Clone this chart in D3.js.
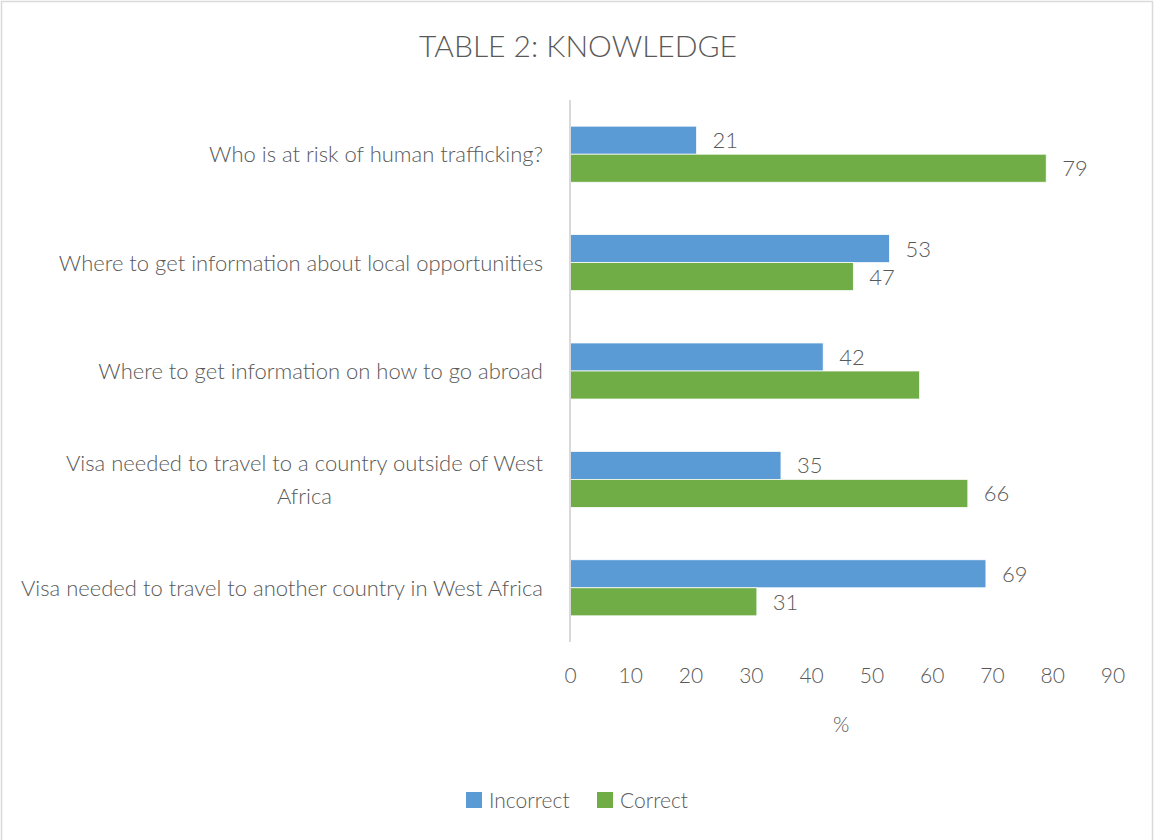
<!DOCTYPE html>
<html>
<head>
<meta charset="utf-8">
<script src="https://cdn.jsdelivr.net/npm/d3@7/dist/d3.min.js"></script>
<style>
  html, body { margin: 0; padding: 0; background: #fff; }
  svg text { font-family: "Lato", "Open Sans", sans-serif; font-weight: 300; fill: #595959; }
</style>
</head>
<body>
<svg id="chart" width="1154" height="840"></svg>
<script>
// Survey questions (top to bottom) and response shares in percent
const questions = [
  ["Who is at risk of human trafficking?"],
  ["Where to get information about local opportunities"],
  ["Where to get information on how to go abroad"],
  ["Visa needed to travel to a country outside of West", "Africa"],
  ["Visa needed to travel to another country in West Africa"]
];
const seriesNames = ["Incorrect", "Correct"];
const incorrect = [21, 53, 42, 35, 69];
const correct = [79, 47, 58, 66, 31];
// Which bars carry a value label
const incorrectLabelled = [true, true, true, true, true];
const correctLabelled = [true, true, false, true, true];
const xTicks = [0, 10, 20, 30, 40, 50, 60, 70, 80, 90];
const titleText = "TABLE 2: KNOWLEDGE";
const axisTitle = "%";

const colors = { Incorrect: "#5B9BD5", Correct: "#70AD47" };

const svg = d3.select("#chart");

// outer frame
svg.append("rect")
  .attr("x", 1.5).attr("y", 1.5).attr("width", 1151).attr("height", 840)
  .attr("fill", "#fff").attr("stroke", "#d9d9d9").attr("stroke-width", 1.5);

const x = d3.scaleLinear().domain([0, 90]).range([570, 1112.5]);
const y = d3.scaleBand().domain(d3.range(questions.length))
  .range([100, 642]).paddingInner(0.483).paddingOuter(0.2415);
const ySub = d3.scaleBand().domain(seriesNames).range([0, y.bandwidth()]);

const rows = questions.map((q, i) => ({
  i, q,
  values: [
    { key: "Incorrect", v: incorrect[i], show: incorrectLabelled[i] },
    { key: "Correct", v: correct[i], show: correctLabelled[i] }
  ]
}));

// title
svg.append("text")
  .attr("x", 578).attr("y", 57)
  .attr("text-anchor", "middle")
  .style("font-size", "30px")
  .text(titleText);

// bars
const groups = svg.append("g").selectAll("g").data(rows).join("g")
  .attr("transform", d => `translate(0,${y(d.i)})`);

groups.selectAll("rect").data(d => d.values).join("rect")
  .attr("x", x(0))
  .attr("y", d => ySub(d.key))
  .attr("width", d => x(d.v) - x(0))
  .attr("height", ySub.bandwidth())
  .attr("fill", d => colors[d.key])
  .attr("stroke", "#fff")
  .attr("stroke-width", 0.75);

groups.selectAll("text.val").data(d => d.values.filter(v => v.show)).join("text")
  .attr("class", "val")
  .attr("x", d => x(d.v) + 16)
  .attr("y", d => ySub(d.key) + ySub.bandwidth() / 2)
  .attr("dy", "0.36em")
  .style("font-size", "22px")
  .text(d => d.v);

// vertical category axis line
svg.append("line")
  .attr("x1", x(0)).attr("x2", x(0))
  .attr("y1", 100).attr("y2", 642)
  .attr("stroke", "#d9d9d9").attr("stroke-width", 2);

// category labels (multi-line labels are centred as a block, block right-aligned)
const labelRight = 543;
const lineH = 33;
questions.forEach((lines, i) => {
  const cy = y(i) + y.bandwidth() / 2;
  const t = svg.append("text")
    .style("font-size", "22px")
    .attr("text-anchor", lines.length > 1 ? "middle" : "end");
  const spans = lines.map((ln, k) => t.append("tspan")
    .attr("y", cy + (k - (lines.length - 1) / 2) * lineH)
    .attr("dy", "0.36em")
    .text(ln));
  if (lines.length > 1) {
    const w = d3.max(spans, s => s.node().getComputedTextLength());
    spans.forEach(s => s.attr("x", labelRight - w / 2));
  } else {
    spans.forEach(s => s.attr("x", labelRight));
  }
});

// x axis tick labels (no line, no ticks)
const xAxis = d3.axisBottom(x).tickValues(xTicks).tickSize(0).tickPadding(0);
const gx = svg.append("g").attr("transform", "translate(0,668)").call(xAxis);
gx.select(".domain").remove();
gx.selectAll("text")
  .attr("dy", "0.71em")
  .style("font-size", "21px")
  .style("font-family", null)
  .attr("fill", null);

// axis title
svg.append("text")
  .attr("x", x(45)).attr("y", 732)
  .attr("text-anchor", "middle")
  .style("font-size", "21px")
  .text(axisTitle);

// legend
const legendItems = [
  { key: "Incorrect", x: 466 },
  { key: "Correct", x: 597 }
];
const lg = svg.append("g").selectAll("g").data(legendItems).join("g")
  .attr("transform", d => `translate(${d.x},792)`);
lg.append("rect").attr("width", 16).attr("height", 16).attr("fill", d => colors[d.key]);
lg.append("text").attr("x", 23).attr("y", 8).attr("dy", "0.36em")
  .style("font-size", "21px").text(d => d.key);
</script>
</body>
</html>
